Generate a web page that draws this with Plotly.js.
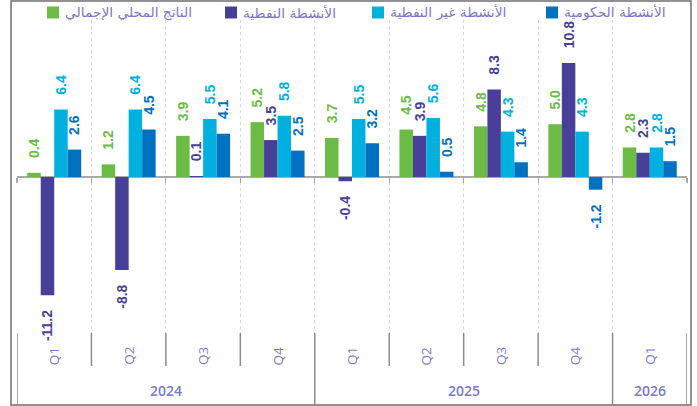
<!DOCTYPE html>
<html>
<head>
<meta charset="utf-8">
<script src="https://cdn.plot.ly/plotly-3.0.1.min.js"></script>
<style>html,body{margin:0;padding:0;background:#fff;}#chart{width:697px;height:406px;}</style>
</head>
<body>
<div id="chart"></div>
<script>
// ---- data ----
const years    = ['2024','2024','2024','2024','2025','2025','2025','2025','2026'];
const quarters = ['Q1','Q2','Q3','Q4','Q1','Q2','Q3','Q4','Q1'];
const gdp    = [0.4, 1.2, 3.9, 5.2, 3.7, 4.5, 4.8, 5.0, 2.8];
const oil    = [-11.2, -8.8, 0.1, 3.5, -0.4, 3.9, 8.3, 10.8, 2.3];
const nonOil = [6.4, 6.4, 5.5, 5.8, 5.5, 5.6, 4.3, 4.3, 2.8];
const gov    = [2.6, 4.5, 4.1, 2.5, 3.2, 0.5, 1.4, -1.2, 1.5];
const seriesNames = ['الناتج المحلي الإجمالي', 'الأنشطة النفطية', 'الأنشطة غير النفطية', 'الأنشطة الحكومية'];
const seriesValues = [gdp, oil, nonOil, gov];
const seriesColors = ['#6cbb45', '#473f98', '#00b1e0', '#0071c1'];

// ---- geometry helpers (pixels -> paper) ----
const W = 697, H = 406;
const L = 17, R = 687, T = 20, B = 333;
const px = x => (x - L) / (R - L);
const py = y => (B - y) / (B - T);
const yMin = -14.77, yMax = 14.87;

const cats = years.map((y, i) => y + ' ' + quarters[i]);
const NB = '\u00a0\u00a0\u00a0';
const fmt = v => (v < 0 ? v.toFixed(1) + NB : NB + v.toFixed(1));

const traces = seriesValues.map((vals, k) => ({
  type: 'bar',
  name: seriesNames[k],
  x: cats,
  y: vals,
  marker: {color: seriesColors[k], line: {width: 0}},
  text: vals.map(fmt),
  textposition: 'outside',
  textangle: -90,
  constraintext: 'none',
  cliponaxis: false,
  textfont: {family: 'Liberation Sans, Arial, sans-serif', size: 14, color: seriesColors[k], weight: 'bold'},
  hoverinfo: 'skip',
  showlegend: false
}));

const labelColor = '#7b79c8';
const shapes = [];
const annotations = [];

// frame
shapes.push({type: 'rect', xref: 'paper', yref: 'paper',
  x0: px(11), x1: px(691), y0: py(405), y1: py(1),
  line: {color: '#6e6e6e', width: 1.5}});

// category separators on bottom axis
for (let i = 0; i <= cats.length; i++) {
  const isYearEdge = (i === 0 || i === cats.length || years[i] !== years[i - 1]);
  shapes.push({type: 'line', xref: 'x', yref: 'paper',
    x0: i - 0.5, x1: i - 0.5, y0: py(333), y1: py(isYearEdge ? 405 : 366),
    line: {color: '#8c8c8c', width: 1.5}});
}

// quarter labels
quarters.forEach((q, i) => {
  annotations.push({xref: 'x', yref: 'paper', x: i, y: py(356), text: q,
    xanchor: 'center', yanchor: 'middle',
    showarrow: false, textangle: -90,
    font: {family: 'Open Sans, sans-serif', size: 13.5, color: labelColor}});
});

// year labels
const uniqYears = [...new Set(years)];
uniqYears.forEach(yr => {
  const idx = years.map((y, i) => y === yr ? i : -1).filter(i => i >= 0);
  const mid = (idx[0] + idx[idx.length - 1]) / 2;
  annotations.push({xref: 'x', yref: 'paper', x: mid, y: py(390), text: yr,
    xanchor: 'center', yanchor: 'middle',
    showarrow: false,
    font: {family: 'Open Sans, sans-serif', size: 14, color: labelColor, weight: 600}});
});

// custom legend (square left of text)
const legSquareX = [47, 225, 372, 546];
seriesNames.forEach((name, k) => {
  const sx = legSquareX[k];
  shapes.push({type: 'rect', xref: 'paper', yref: 'paper',
    x0: px(sx), x1: px(sx + 12), y0: py(18.5), y1: py(6.5),
    fillcolor: seriesColors[k], line: {width: 0}});
  annotations.push({xref: 'paper', yref: 'paper', x: px(sx + 16), y: py(12.5),
    xanchor: 'left', yanchor: 'middle', text: name, showarrow: false,
    font: {family: 'DejaVu Sans, sans-serif', size: 13.8, color: labelColor}});
});

const layout = {
  width: W, height: H,
  margin: {l: L, r: W - R, t: T, b: H - B, pad: 0},
  paper_bgcolor: '#ffffff', plot_bgcolor: '#ffffff',
  barmode: 'group', bargap: 0.275, bargroupgap: 0,
  showlegend: false,
  xaxis: {
    type: 'category', categoryorder: 'array', categoryarray: cats,
    range: [-0.5, cats.length - 0.5],
    tickson: 'boundaries',
    showgrid: true, gridcolor: '#d6d4f0', gridwidth: 1.2, griddash: 'dot',
    showticklabels: false,
    ticks: 'outside', ticklen: 5, tickcolor: '#a8a8a8', tickwidth: 1.2,
    showline: false, zeroline: false,
    anchor: 'free', position: (0 - yMin) / (yMax - yMin),
    fixedrange: true
  },
  yaxis: {
    range: [yMin, yMax],
    showgrid: false, showticklabels: false, ticks: '',
    zeroline: true, zerolinecolor: '#aaaaaa', zerolinewidth: 1.5,
    showline: false, fixedrange: true
  },
  shapes: shapes,
  annotations: annotations,
  font: {family: 'Open Sans, sans-serif'}
};

Plotly.newPlot('chart', traces, layout, {displayModeBar: false, staticPlot: true});
</script>
</body>
</html>
